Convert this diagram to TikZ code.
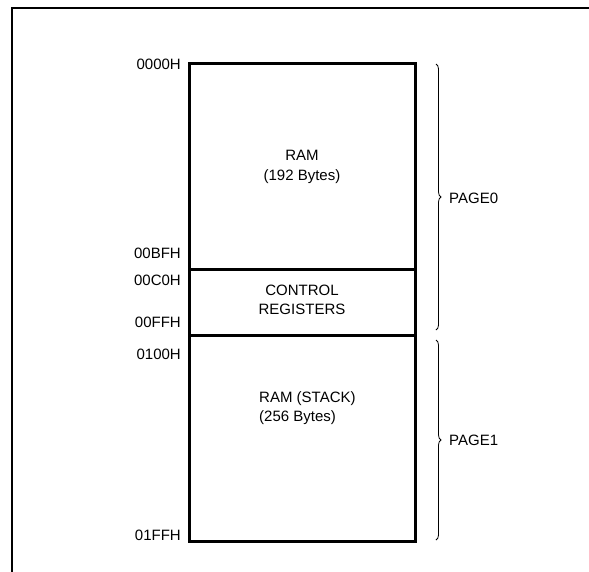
\documentclass[tikz,border=0pt]{standalone}
\usepackage{fontspec}
\setmainfont{Liberation Sans}
\usetikzlibrary{decorations.pathreplacing}
\begin{document}
\begin{tikzpicture}[x=1pt,y=-1pt,
  addr/.style={anchor=east,font=\fontsize{15}{17}\selectfont,inner sep=0pt},
  cell/.style={font=\fontsize{15}{19.5}\selectfont,align=center,inner sep=0pt},
  memline/.style={line width=3pt},
  pagebrace/.style={decorate,decoration={brace,amplitude=5pt},line width=0.8pt},
  pagelbl/.style={anchor=west,font=\fontsize{15}{17}\selectfont,inner sep=0pt}]
  \useasboundingbox (0,0) rectangle (589,571);
  % outer frame (open on right and bottom)
  \coordinate (fbl) at (12,572);
  \coordinate (ftl) at (12,8);
  \coordinate (ftr) at (590,8);
  \draw[line width=2pt] (fbl) -- (ftl) -- (ftr);

  % memory map column
  \coordinate (mtl) at (189,63);
  \coordinate (mbr) at (415,541);
  \coordinate (d1l) at (189,269);
  \coordinate (d1r) at (415,269);
  \coordinate (d2l) at (189,335);
  \coordinate (d2r) at (415,335);
  \draw[memline] (mtl) rectangle (mbr);
  \draw[memline] (d1l) -- (d1r);
  \draw[memline] (d2l) -- (d2r);

  % cell contents
  \node[cell] (ram) at (302,167) {RAM\\(192 Bytes)};
  \node[cell] (ctrl) at (302,300) {CONTROL\\REGISTERS};
  \node[cell,align=left,anchor=west] (stack) at (259,408) {RAM (STACK)\\(256 Bytes)};

  % addresses
  \node[addr] (a0) at (181,64) {0000H};
  \node[addr] (a1) at (181,253) {00BFH};
  \node[addr] (a2) at (181,280) {00C0H};
  \node[addr] (a3) at (181,322) {00FFH};
  \node[addr] (a4) at (181,354) {0100H};
  \node[addr] (a5) at (181,535) {01FFH};

  % page braces
  \coordinate (p0t) at (436,64);
  \coordinate (p0b) at (436,330);
  \coordinate (p1t) at (436,340);
  \coordinate (p1b) at (436,540);
  \draw[pagebrace] (p0t) -- (p0b);
  \draw[pagebrace] (p1t) -- (p1b);
  \node[pagelbl] (pg0) at (449,198) {PAGE0};
  \node[pagelbl] (pg1) at (449,440) {PAGE1};
\end{tikzpicture}
\end{document}
